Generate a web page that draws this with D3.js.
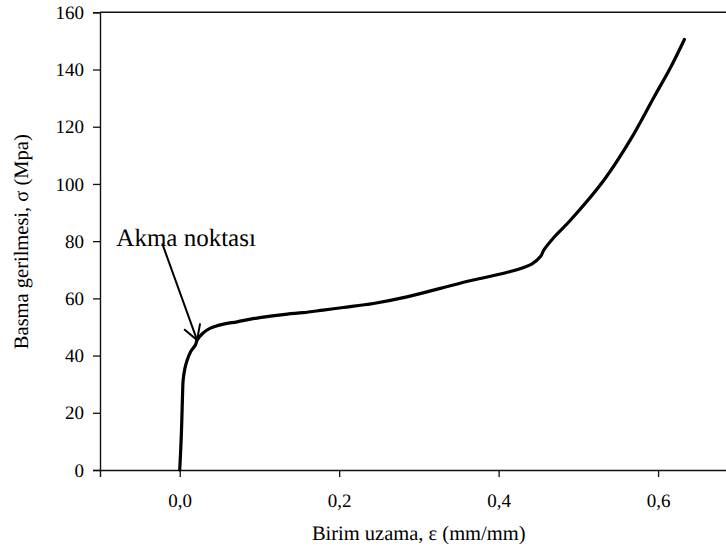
<!DOCTYPE html>
<html>
<head>
<meta charset="utf-8">
<script src="https://cdn.jsdelivr.net/npm/d3@7"></script>
<style>
  html, body { margin: 0; padding: 0; background: #fff; }
  svg { display: block; }
  text { text-rendering: geometricPrecision; }
</style>
</head>
<body>
<script>
// ---- data ----
const strain = [0.000, 0.002, 0.0035, 0.0043, 0.0065, 0.0093, 0.014, 0.0197, 0.0218, 0.029, 0.0385, 0.055, 0.072, 0.092, 0.1138, 0.135, 0.155, 0.180, 0.205, 0.243, 0.285, 0.327, 0.368, 0.411, 0.4415, 0.4525, 0.457, 0.469, 0.490, 0.532, 0.565, 0.595, 0.616, 0.633];
const stress = [0.0, 12.0, 26.0, 31.4, 35.5, 38.4, 41.5, 43.7, 45.4, 47.8, 49.6, 51.0, 51.8, 52.9, 53.8, 54.5, 55.0, 55.9, 56.8, 58.2, 60.5, 63.5, 66.4, 69.1, 72.0, 74.6, 77.0, 81.2, 87.3, 101.3, 115.3, 130.4, 140.9, 150.5];

const xTicks = [0.0, 0.2, 0.4, 0.6];
const xTickLabels = ["0,0", "0,2", "0,4", "0,6"];
const yTicks = [0, 20, 40, 60, 80, 100, 120, 140, 160];

const xTitle = "Birim uzama, ε (mm/mm)";
const yTitle = "Basma gerilmesi, σ (Mpa)";

const annotationText = "Akma noktası";
const arrowFrom = [-0.022, 79.2];
const arrowTo = [0.0218, 45.4];
const labelAt = [-0.0795, 78.2];

// ---- layout ----
const FONT = '"Liberation Serif", "Times New Roman", Times, serif';
const W = 726, H = 558;
const svg = d3.select("body").append("svg").attr("width", W).attr("height", H);

const x = d3.scaleLinear().domain([-0.1, 0.7]).range([100, 737.8]);
const y = d3.scaleLinear().domain([0, 160]).range([470, 12.3]);

const axisColor = "#111";

// top frame line
svg.append("line")
  .attr("x1", x(-0.1)).attr("x2", x(0.7))
  .attr("y1", y(160)).attr("y2", y(160))
  .attr("stroke", axisColor).attr("stroke-width", 1.4);

// x axis
const gx = svg.append("g").attr("transform", `translate(0,${y(0)})`)
  .call(d3.axisBottom(x).tickValues(xTicks).tickSize(7).tickPadding(17)
    .tickFormat((d, i) => xTickLabels[i]));
gx.attr("font-family", null);
gx.select(".domain").attr("stroke", axisColor).attr("stroke-width", 1.4);
gx.selectAll(".tick line").attr("stroke", axisColor).attr("stroke-width", 1.3);
gx.selectAll(".tick text").style("font-family", FONT).style("font-size", "19px").attr("fill", "#000");

// y axis
const gy = svg.append("g").attr("transform", `translate(${x(-0.1)},0)`)
  .call(d3.axisLeft(y).tickValues(yTicks).tickSize(7).tickPadding(9).tickFormat(d3.format("d")));
gy.attr("font-family", null);
gy.select(".domain").attr("stroke", axisColor).attr("stroke-width", 1.4);
gy.selectAll(".tick line").attr("stroke", axisColor).attr("stroke-width", 1.3);
gy.selectAll(".tick text").style("font-family", FONT).style("font-size", "19px").attr("fill", "#000");

// titles
svg.append("text")
  .attr("x", 418.7).attr("y", 540)
  .attr("text-anchor", "middle")
  .style("font-family", FONT).style("font-size", "20.5px")
  .text(xTitle);

svg.append("text")
  .attr("transform", `translate(28,241.7) rotate(-90)`)
  .attr("text-anchor", "middle")
  .style("font-family", FONT).style("font-size", "20.5px")
  .text(yTitle);

// curve
const pts = strain.map((s, i) => [s, stress[i]]);
const line = d3.line().x(d => x(d[0])).y(d => y(d[1])).curve(d3.curveCatmullRom.alpha(0.5));
svg.append("path")
  .datum(pts)
  .attr("d", line)
  .attr("fill", "none")
  .attr("stroke", "#000")
  .attr("stroke-width", 3.2)
  .attr("stroke-linejoin", "round")
  .attr("stroke-linecap", "round");

// annotation
svg.append("text")
  .attr("x", x(labelAt[0])).attr("y", y(labelAt[1]))
  .style("font-family", FONT).style("font-size", "25px")
  .text(annotationText);

const ax0 = x(arrowFrom[0]), ay0 = y(arrowFrom[1]);
const ax1 = x(arrowTo[0]), ay1 = y(arrowTo[1]);
svg.append("line")
  .attr("x1", ax0).attr("y1", ay0).attr("x2", ax1).attr("y2", ay1)
  .attr("stroke", "#000").attr("stroke-width", 2);

const ang = Math.atan2(ay0 - ay1, ax0 - ax1);
const headLen = 17, headAng = Math.PI / 6;
const head = [ang - headAng, ang + headAng].map(a => [ax1 + headLen * Math.cos(a), ay1 + headLen * Math.sin(a)]);
svg.append("path")
  .attr("d", `M${head[0][0]},${head[0][1]} L${ax1},${ay1} L${head[1][0]},${head[1][1]}`)
  .attr("fill", "none").attr("stroke", "#000").attr("stroke-width", 2)
  .attr("stroke-linejoin", "miter");
</script>
</body>
</html>
